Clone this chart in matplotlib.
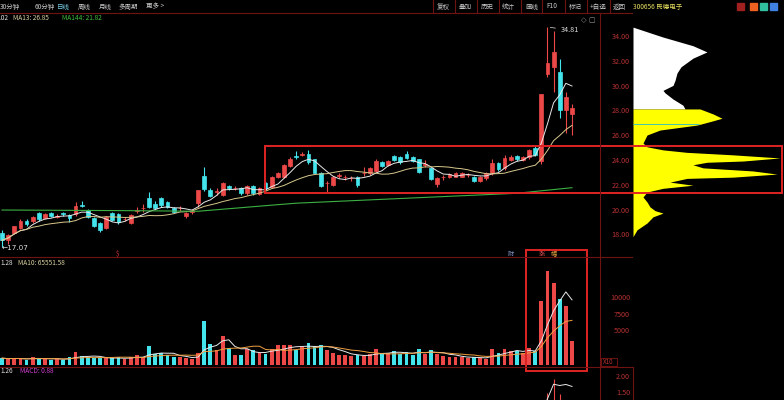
import numpy as np
import pandas as pd
import matplotlib
matplotlib.use("Agg")
import matplotlib.pyplot as plt
from matplotlib.patches import Rectangle
from matplotlib.lines import Line2D

plt.rcParams['font.family'] = ['Noto Sans CJK SC', 'DejaVu Sans']

W, H = 784, 400

# daily candles
opens = [18.2, 17.6, 18.2, 18.6, 19.15, 19.15, 19.8, 19.4, 19.8, 19.5,
         19.8, 19.65, 19.7, 20.45, 20.05, 19.4, 19.0, 18.6, 19.8, 19.7,
         19.3, 19.0, 20.0, 20.2, 21.0, 20.5, 21.0, 20.7, 20.2, 20.2,
         19.55, 19.9, 20.6, 22.8, 21.65, 21.5, 21.25, 22.0, 21.8, 21.8,
         21.4, 22.0, 21.35, 22.2, 21.9, 22.7, 22.7, 23.6, 24.4, 24.5,
         24.55, 24.15, 23.05, 22.2, 22.05, 22.8, 22.7, 22.6, 22.7, 23.0,
         23.0, 23.2, 23.9, 23.7, 24.4, 24.3, 24.6, 24.3, 24.15, 23.7,
         23.4, 22.15, 22.7, 22.7, 22.75, 22.75, 22.85, 22.7, 22.4, 22.6,
         23.0, 23.85, 23.4, 24.1, 24.4, 24.1, 24.3, 25.05, 24.0, 31.0,
         31.6, 31.2, 28.1, 27.8]
closes = [17.6, 18.0, 18.75, 19.2, 18.9, 19.5, 19.3, 19.7, 19.55, 19.55,
          19.7, 19.4, 20.4, 20.35, 19.5, 18.75, 18.45, 19.5, 19.25, 19.1,
          19.35, 19.65, 20.05, 20.25, 20.3, 20.2, 20.45, 20.3, 19.9, 20.25,
          19.8, 19.95, 21.65, 21.75, 21.2, 21.55, 22.2, 21.8, 21.85, 21.4,
          22.0, 21.4, 21.8, 21.8, 22.7, 23.0, 23.7, 24.15, 24.35, 24.6,
          23.9, 23.05, 22.0, 22.25, 22.7, 22.85, 22.75, 22.65, 22.05, 23.05,
          23.4, 24.0, 23.6, 24.0, 24.1, 23.9, 24.25, 24.0, 23.1, 23.75,
          22.55, 22.6, 22.75, 22.95, 23.0, 23.0, 22.9, 22.4, 22.7, 23.0,
          23.85, 23.35, 24.25, 24.3, 24.15, 24.3, 24.9, 24.5, 29.4, 31.9,
          32.8, 28.1, 29.15, 28.3]
highs = [18.4, 18.1, 18.8, 19.3, 19.3, 19.6, 19.9, 19.8, 19.9, 19.7,
         19.9, 19.7, 20.7, 20.8, 20.1, 19.5, 19.1, 19.6, 19.9, 19.8,
         19.5, 19.7, 20.3, 20.5, 21.5, 20.8, 21.1, 20.8, 20.3, 20.4,
         19.9, 20.1, 21.7, 23.5, 21.8, 21.8, 22.3, 22.1, 22.0, 21.9,
         22.1, 22.1, 21.9, 22.3, 22.8, 23.1, 23.8, 24.3, 24.8, 24.7,
         24.9, 24.2, 23.1, 22.4, 22.8, 23.0, 22.9, 22.8, 22.8, 23.5,
         23.5, 24.2, 24.0, 24.1, 24.5, 24.4, 24.8, 24.4, 24.2, 24.1,
         23.5, 22.7, 22.9, 23.0, 23.1, 23.1, 23.0, 22.8, 22.8, 23.1,
         24.2, 23.9, 24.5, 24.5, 24.5, 24.4, 25.0, 25.2, 29.4, 34.81,
         34.5, 32.2, 29.6, 28.6]
lows = [17.07, 17.3, 18.1, 18.5, 18.8, 19.0, 19.2, 19.3, 19.5, 19.4,
        19.6, 19.1, 19.6, 20.3, 19.4, 18.7, 18.3, 18.5, 19.2, 18.9,
        19.2, 18.9, 19.8, 19.9, 20.2, 20.1, 20.3, 20.2, 19.8, 20.0,
        19.4, 19.7, 20.3, 21.6, 21.1, 21.3, 21.2, 21.7, 21.7, 21.3,
        21.3, 21.3, 21.3, 21.7, 21.8, 22.6, 22.6, 23.5, 24.2, 24.4,
        23.8, 23.0, 21.9, 21.5, 22.0, 22.6, 22.5, 22.4, 21.9, 22.8,
        22.9, 23.1, 23.5, 23.6, 24.0, 23.8, 24.2, 23.9, 23.0, 23.5,
        22.5, 21.9, 22.5, 22.6, 22.7, 22.7, 22.7, 22.3, 22.3, 22.5,
        22.9, 23.2, 23.3, 24.0, 24.0, 24.0, 24.2, 24.4, 23.8, 30.8,
        29.6, 27.45, 26.3, 26.1]
volumes = [1000, 850, 1000, 900, 700, 1150, 900, 1000, 750, 800,
           750, 1200, 1900, 1350, 1100, 1000, 950, 1000, 1000, 1150,
           800, 1150, 1500, 1150, 2750, 1650, 1750, 1400, 1100, 1100,
           1000, 850, 1750, 6500, 3150, 2250, 4350, 2500, 1500, 1400,
           2350, 2150, 1750, 1600, 2400, 3000, 3000, 2900, 2250, 2600,
           3200, 2800, 3000, 2200, 1800, 1500, 1400, 1300, 1500, 1300,
           1600, 2300, 1800, 1700, 2000, 1600, 1900, 1500, 2400, 1600,
           2200, 1600, 1300, 1200, 1100, 1200, 1000, 1100, 1000, 900,
           2400, 1800, 2400, 2000, 2100, 1750, 2500, 2000, 9600, 14100,
           12300, 9900, 8800, 3600]

# MA144 (too long to compute from the visible bars)
ma144_idx = [0, 20, 32, 43, 48, 84, 93]
ma144_val = [20.05, 20.0, 19.95, 20.4, 20.6, 21.4, 21.85]

# chip distribution on the right: price level -> bar length
prof_hi_price = [34.8, 34.0, 33.3, 32.8, 32.3, 31.6, 31.1, 30.5, 30.1, 29.7,
                 29.5, 29.0, 28.5, 28.2]
prof_hi_len = [0, 30, 60, 74, 60, 48, 44, 42, 40, 30, 32, 40, 50, 52]
prof_lo_price = [28.2, 27.8, 27.45, 27.2, 26.9, 26.5, 26.1, 25.45, 25.15, 24.9,
                 24.7, 24.5, 24.25, 24.0, 23.9, 23.7, 23.45, 23.2, 22.95, 22.7,
                 22.6, 22.3, 22.05, 21.8, 21.5, 21.1, 20.7, 20.3, 20.0, 19.8,
                 19.5, 19.0, 18.45, 17.9]
prof_lo_len = [67, 80, 89, 78, 64, 27, 14, 10, 14, 30,
               54, 100, 147, 110, 74, 60, 70, 120, 144, 100,
               54, 37, 60, 30, 14, 10, 14, 17, 22, 30,
               20, 14, 4, 0]
cost_line = 27.0

price_ticks = [34, 32, 30, 28, 26, 24, 22, 20, 18]
vol_ticks = [10000, 7500, 5000]
macd_ticks = [2.0, 1.5]

RED = "#ec4848"
CYAN = "#44e4ec"
AXRED = "#6e1212"
LABRED = "#b83232"
BOXRED = "#e02424"
FS = 5.2     # axis labels
LFS = 4.7    # legend lines
TFS = 4.7    # toolbar

o = np.array(opens); c = np.array(closes)
hi = np.array(highs); lo = np.array(lows)
x = np.arange(len(c))
col = np.where(c >= o, RED, CYAN)

cs = pd.Series(closes)
ma5 = cs.rolling(5, min_periods=1).mean()
ma13 = cs.rolling(13, min_periods=1).mean()
vs = pd.Series(volumes)
vma5 = vs.rolling(5, min_periods=1).mean()
vma10 = vs.rolling(10, min_periods=1).mean()
dif = cs.ewm(span=12, adjust=False).mean() - cs.ewm(span=26, adjust=False).mean()
dea = dif.ewm(span=9, adjust=False).mean()
macd = 2 * (dif - dea)


def fx(px):
    return px / W


def fy(py):
    return 1 - py / H


fig = plt.figure(figsize=(W / 100, H / 100), dpi=100, facecolor="black")

xl = (-0.33, 97.57)
ax = fig.add_axes([0, fy(257), fx(600), (257 - 13) / H])
axv = fig.add_axes([0, fy(367), fx(600), (367 - 257) / H])
axm = fig.add_axes([0, 0, fx(600), 33 / H])
axp = fig.add_axes([fx(633), fy(257), fx(151), (257 - 13) / H])
for a in (ax, axv, axm, axp):
    a.set_facecolor("black")
    a.set_xticks([]); a.set_yticks([])
    for s in a.spines.values():
        s.set_visible(False)
    a.set_xlim(*xl)

# price panel
ax.set_ylim(16.26, 35.94)
ax.vlines(x, lo, hi, colors=col, lw=0.8)
ax.bar(x, np.abs(c - o), bottom=np.minimum(o, c), width=0.62,
       color=col, edgecolor=col, linewidth=0.5)
ax.plot(x, ma5, color="#e8e8e8", lw=0.7)
ax.plot(x, ma13, color="#d8c88c", lw=0.7)
ax.plot(ma144_idx, ma144_val, color="#3cb043", lw=0.8)
ty = ax.get_yaxis_transform()
for p in price_ticks:
    ax.text(1.05, p, f"{p:.2f}", transform=ty, ha="right", va="center",
            fontsize=FS, color=LABRED, clip_on=False)
ax.annotate("34.81", xy=(89, 34.81), xytext=(91.2, 34.55), fontsize=FS,
            color="#e0e0e0", va="center",
            arrowprops=dict(arrowstyle="-", color="#e0e0e0", lw=0.5))
ax.text(0.0, 17.0, "←17.07", fontsize=FS, color="#e0e0e0", va="center",
        family=['DejaVu Sans'])

# volume panel
axv.set_ylim(-330, 16170)
axv.bar(x, volumes, width=0.62, color=col)
axv.plot(x, vma5, color="#e8e8e8", lw=0.7)
axv.plot(x, vma10, color="#f0a040", lw=0.7)
tv = axv.get_yaxis_transform()
for v in vol_ticks:
    axv.text(1.05, v, f"{v}", transform=tv, ha="right", va="center",
             fontsize=FS, color=LABRED, clip_on=False)

# MACD panel
axm.set_ylim(1.28, 2.31)
axm.vlines(x, 0, macd, colors=np.where(macd >= 0, RED, CYAN), lw=0.8)
axm.plot(x, dif, color="#e8e8e8", lw=0.7)
axm.plot(x, dea, color="#e8d040", lw=0.7)
tm = axm.get_yaxis_transform()
for v in macd_ticks:
    axm.text(1.05, v, f"{v:.2f}", transform=tm, ha="right", va="center",
             fontsize=FS, color=LABRED, clip_on=False)

# chip profile
axp.set_xlim(0, 151)
axp.set_ylim(16.26, 35.94)
axp.fill_betweenx(prof_hi_price, 0, prof_hi_len, color="white", lw=0)
axp.fill_betweenx(prof_lo_price, 0, prof_lo_len, color="#ffff00", lw=0)
axp.hlines(cost_line, 0, 66, color="#40c8b0", lw=0.7)

# frame lines
lines = [((0, 632), (13, 13)), ((0, 632), (257, 257)), ((0, 632), (367, 367)),
         ((600, 600), (13, 400)), ((633, 633), (367, 400))]
for xs, ys in lines:
    fig.add_artist(Line2D([fx(v) for v in xs], [fy(v) for v in ys],
                          color=AXRED, lw=0.8))
for sx in [433, 455, 477, 499, 521, 542, 565, 587, 610]:
    fig.add_artist(Line2D([fx(sx)] * 2, [fy(0), fy(13)], color=AXRED, lw=0.8))
fig.add_artist(Rectangle((fx(601), fy(366)), fx(16), 8 / H, fill=False,
                         ec=AXRED, lw=0.7))
fig.text(fx(603), fy(362), "X10", fontsize=4.5, color=LABRED, va="center")

# highlight boxes
fig.add_artist(Rectangle((fx(265), fy(193)), fx(782 - 265), (193 - 146) / H,
                         fill=False, ec=BOXRED, lw=1.4))
fig.add_artist(Rectangle((fx(526), fy(371)), fx(587 - 526), (371 - 250) / H,
                         fill=False, ec=BOXRED, lw=1.4))

# toolbar
for t, px, cl in [("30分钟", 0, "#c8c8c8"), ("60分钟", 35, "#c8c8c8"),
                  ("日线", 57, "#78d0e8"), ("周线", 78, "#c8c8c8"),
                  ("月线", 99, "#c8c8c8"), ("多周期", 119, "#c8c8c8"),
                  ("更多 >", 146, "#c8c8c8"), ("复权", 437, "#c8c8c8"),
                  ("叠加", 459, "#c8c8c8"), ("历史", 481, "#c8c8c8"),
                  ("统计", 502, "#c8c8c8"), ("画线", 525, "#c8c8c8"),
                  ("F10", 546, "#c8c8c8"), ("标记", 569, "#c8c8c8"),
                  ("+自选", 590, "#c8c8c8"), ("返回", 613, "#c8c8c8"),
                  ("300656 民德电子", 633, "#e8e060")]:
    fig.text(fx(px), fy(6.5), t, fontsize=TFS, color=cl, va="center")
for px, cl in [(737, "#a02020"), (750, "#f06020"), (760, "#30c0a0"), (770, "#4080e0")]:
    fig.add_artist(Rectangle((fx(px), fy(10)), fx(7), 7 / H, color=cl))
fig.text(fx(581), fy(20), "◇ ▢", fontsize=FS, color="#909090", va="center",
         family=['DejaVu Sans'])

# indicator legends
fig.text(0, fy(18), ".02", fontsize=LFS, color="#e0e0e0", va="center")
fig.text(fx(13), fy(18), "MA13: 26.85", fontsize=LFS, color="#d8d0a0", va="center")
fig.text(fx(62), fy(18), "MA144: 21.82", fontsize=LFS, color="#40c040", va="center")
fig.text(0, fy(263), "1.28", fontsize=LFS, color="#e0e0e0", va="center")
fig.text(fx(18), fy(263), "MA10: 65551.58", fontsize=LFS, color="#d8d0a0", va="center")
fig.text(0, fy(371), "1.26", fontsize=LFS, color="#e0e0e0", va="center")
fig.text(fx(20), fy(371), "MACD: 0.88", fontsize=LFS, color="#d040d0", va="center")

# event markers at the bottom of the price panel
for t, px, cl in [("$", 116, "#d03030"), ("财", 508, "#8090c0"),
                  ("涨", 539, "#e05050"), ("幅", 551, "#e0a040")]:
    fig.text(fx(px), fy(253.5), t, fontsize=4.5, color=cl, va="center")

fig.savefig("out.png", dpi=100, facecolor="black")
